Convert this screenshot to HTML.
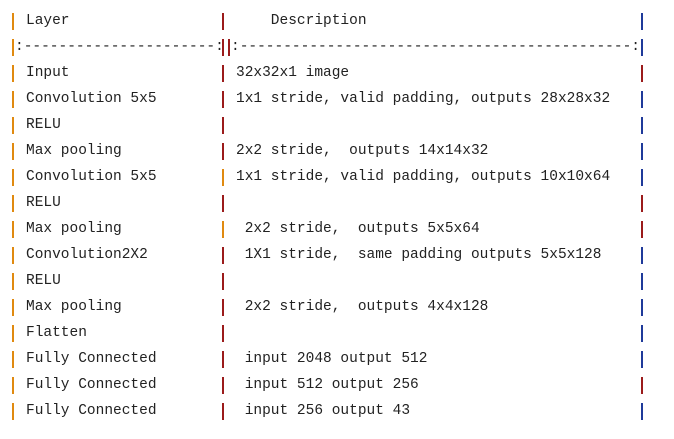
<!DOCTYPE html><html><head><style>
body{margin:0;width:674px;height:439px;background:#fff;position:relative;overflow:hidden;font-family:"Liberation Mono",monospace;font-size:14.5px;color:#222}
.t{position:absolute;white-space:pre;line-height:16px}
.p{position:absolute;width:2px;height:17px}
.o{background:#e08a10}.r{background:#9b1b1b}.b{background:#1f3a9a}
</style></head><body>
<div id="c"></div>
<script>
(function(){
var rows=[
["Layer","    Description","r","b"],
null,
["Input","32x32x1 image","r","r"],
["Convolution 5x5","1x1 stride, valid padding, outputs 28x28x32","r","b"],
["RELU","","r","b"],
["Max pooling","2x2 stride,  outputs 14x14x32","r","b"],
["Convolution 5x5","1x1 stride, valid padding, outputs 10x10x64","o","b"],
["RELU","","r","r"],
["Max pooling"," 2x2 stride,  outputs 5x5x64","o","r"],
["Convolution2X2"," 1X1 stride,  same padding outputs 5x5x128","r","b"],
["RELU","","r","b"],
["Max pooling"," 2x2 stride,  outputs 4x4x128","r","b"],
["Flatten","","r","b"],
["Fully Connected"," input 2048 output 512","r","b"],
["Fully Connected"," input 512 output 256","r","r"],
["Fully Connected"," input 256 output 43","r","b"]];
var h="";
for(var i=0;i<rows.length;i++){
 var ty=21+26*i-8;
 h+='<div class="p o" style="left:12px;top:'+ty+'px"></div>';
 if(rows[i]===null){
  h+='<div class="t" style="left:15px;top:'+ty+'px;width:206px;overflow:hidden">:'+'-'.repeat(22)+':</div>';
  h+='<div class="p r" style="left:222px;top:'+ty+'px"></div>';
  h+='<div class="p r" style="left:228px;top:'+ty+'px"></div>';
  h+='<div class="t" style="left:231px;top:'+ty+'px;width:409px;overflow:hidden">:'+'-'.repeat(45)+':</div>';
  h+='<div class="p b" style="left:641px;top:'+ty+'px"></div>';
  continue;}
 var r=rows[i];
 h+='<div class="t" style="left:26px;top:'+ty+'px">'+r[0]+'</div>';
 h+='<div class="p '+r[2]+'" style="left:222px;top:'+ty+'px"></div>';
 h+='<div class="t" style="left:236px;top:'+ty+'px">'+r[1]+'</div>';
 h+='<div class="p '+r[3]+'" style="left:641px;top:'+ty+'px"></div>';
}
document.getElementById("c").innerHTML=h;
})();
</script>
</body></html>
